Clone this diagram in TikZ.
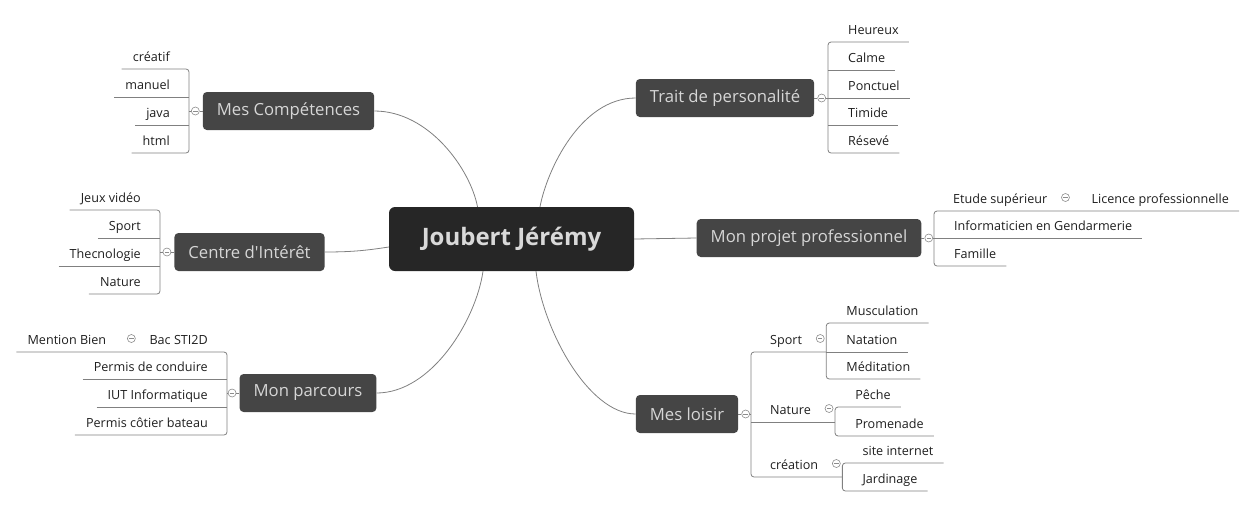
\documentclass[tikz,border=0pt]{standalone}
\usepackage{fontspec}
\setmainfont{Open Sans}[Ligatures=TeXOff]
\usetikzlibrary{positioning}

\definecolor{rootfill}{HTML}{262626}
\definecolor{roottext}{HTML}{D9D9D9}
\definecolor{topicfill}{HTML}{454545}
\definecolor{topictext}{HTML}{D6D6D6}
\definecolor{leaftext}{HTML}{1E1E1E}
\definecolor{linegray}{HTML}{808080}
\definecolor{foldgray}{HTML}{8C8C8C}

\begin{document}
\begin{tikzpicture}[x=1pt,y=-1pt]
    		\newcommand{\cornerrad}{3pt} % radius of the bracket corners
    		\newcommand{\foldgap}{3pt} % space between a topic and its fold
    		
    		% set the styles of the map
    		\tikzset{
    			rootbox/.style={
    				rounded corners=6pt,
    				fill=rootfill,
    				text=roottext,
    				font=\fontsize{24}{28}\selectfont\bfseries,
    				minimum width=245pt,
    				minimum height=64pt
    				},
    			topic/.style={
    				rounded corners=4pt,
    				fill=topicfill,
    				text=topictext,
    				font=\fontsize{16.7}{20}\selectfont,
    				minimum height=38pt,
    				inner xsep=14pt
    				},
    			leaf/.style 2 args={
    				font=\fontsize{12.6}{15}\selectfont,
    				text=leaftext,
    				inner xsep=0pt,
    				inner ysep=4pt,
    				text height=10pt,
    				text depth=3pt,
    				execute at begin node={\hspace*{#1pt}},
    				execute at end node={\hspace*{#2pt}}
    				},
    			rleaf/.style={leaf={20}{10}, anchor=south west},
    			lleaf/.style={leaf={11}{19}, anchor=south east},
    			rsub/.style={leaf={19}{24}, anchor=south west},
    			lsub/.style={leaf={24}{19}, anchor=south east},
    			fold/.style={
    				circle,
    				draw=foldgray,
    				fill=white,
    				line width=0.6pt,
    				minimum size=8pt,
    				inner sep=0pt,
    				path picture={\draw[foldgray, line width=0.6pt]
    					([xshift=-2.2pt]path picture bounding box.center) --
    					([xshift=2.2pt]path picture bounding box.center);}
    				},
    			branch/.style={draw=linegray, line width=0.8pt},
    			link/.style={draw=linegray, line width=0.8pt}
    		}
    		
    		\useasboundingbox (0,0) rectangle (1250,507);
    		
    		% topics
    		\node[rootbox] (root) at (511.5,239) {Joubert Jérémy};
    		\node[topic] (comp) at (288.5,111) {Mes Compétences};
    		\node[topic] (centre) at (249.5,252) {Centre d'Intérêt};
    		\node[topic] (parcours) at (308,393) {Mon parcours};
    		\node[topic] (trait) at (725,98) {Trait de personalité};
    		\node[topic] (projet) at (809,238) {Mon projet professionnel};
    		\node[topic] (loisir) at (687,414) {Mes loisir};
    		
    		% links to the centre
    		\draw[link] (comp.east) .. controls +(55,0) and +(-7,-37) .. ([xshift=-34pt]root.north);
    		\draw[link] (trait.west) .. controls +(-55,0) and +(7,-37) .. ([xshift=28.5pt]root.north);
    		\draw[link] (centre.east) .. controls +(30,0) and +(-20,3) .. ([yshift=-8pt]root.west);
    		\draw[link] (root.east) -- (projet.west);
    		\draw[link] (parcours.east) .. controls +(55,0) and +(-7,49) .. ([xshift=-28.5pt]root.south);
    		\draw[link] (loisir.west) .. controls +(-47,0) and +(7,59) .. ([xshift=24.5pt]root.south);
    		
    		% folds
    		\node[fold, left=\foldgap of comp] (comp-f) {};
    		\node[fold, left=\foldgap of centre] (centre-f) {};
    		\node[fold, left=\foldgap of parcours] (parcours-f) {};
    		\node[fold, right=\foldgap of trait] (trait-f) {};
    		\node[fold, right=\foldgap of projet] (projet-f) {};
    		\node[fold, right=\foldgap of loisir] (loisir-f) {};
    		
    		% Mes Competences
    		\node[lleaf] (creatif) at (189,69) {créatif};
    		\node[lleaf] (manuel) at (189,97) {manuel};
    		\node[lleaf] (java) at (189,125) {java};
    		\node[lleaf] (html) at (189,153) {html};
    		\draw[branch] (comp.west) -- (comp-f.east);
    		\draw[branch] (comp-f.west) -- (comp-f.west -| creatif.south east);
    		\draw[branch, rounded corners=\cornerrad] (creatif.south west) -- (creatif.south east) -- (html.south east) -- (html.south west);
    		\draw[branch] (manuel.south west) -- (manuel.south east);
    		\draw[branch] (java.south west) -- (java.south east);
    		
    		% Centre d'Interet
    		\node[lleaf] (jeux) at (160,210) {Jeux vidéo};
    		\node[lleaf] (sportc) at (160,238) {Sport};
    		\node[lleaf] (techno) at (160,266) {Thecnologie};
    		\node[lleaf] (naturec) at (160,294) {Nature};
    		\draw[branch] (centre.west) -- (centre-f.east);
    		\draw[branch] (centre-f.west) -- (centre-f.west -| jeux.south east);
    		\draw[branch, rounded corners=\cornerrad] (jeux.south west) -- (jeux.south east) -- (naturec.south east) -- (naturec.south west);
    		\draw[branch] (sportc.south west) -- (sportc.south east);
    		\draw[branch] (techno.south west) -- (techno.south east);
    		
    		% Mon parcours
    		\node[lsub] (bac) at (227,352) {Bac STI2D};
    		\node[lleaf] (mention) at (bac.south west) {Mention Bien};
    		\node[fold] (bac-f) at ([xshift=6pt,yshift=13.5pt]bac.south west) {};
    		\node[lleaf] (permis) at (227,379) {Permis de conduire};
    		\node[lleaf] (iut) at (227,407) {IUT Informatique};
    		\node[lleaf] (cotier) at (227,435) {Permis côtier bateau};
    		\draw[branch] (parcours.west) -- (parcours-f.east);
    		\draw[branch] (parcours-f.west) -- (parcours-f.west -| bac.south east);
    		\draw[branch, rounded corners=\cornerrad] (mention.south west) -- (bac.south east) -- (cotier.south east) -- (cotier.south west);
    		\draw[branch] (permis.south west) -- (permis.south east);
    		\draw[branch] (iut.south west) -- (iut.south east);
    		
    		% Trait de personalite
    		\node[rleaf] (heureux) at (828,42) {Heureux};
    		\node[rleaf] (calme) at (828,70) {Calme};
    		\node[rleaf] (ponctuel) at (828,98) {Ponctuel};
    		\node[rleaf] (timide) at (828,125) {Timide};
    		\node[rleaf] (resev) at (828,153) {Résevé};
    		\draw[branch] (trait.east) -- (trait-f.west);
    		\draw[branch] (trait-f.east) -- (ponctuel.south west);
    		\draw[branch, rounded corners=\cornerrad] (heureux.south east) -- (heureux.south west) -- (resev.south west) -- (resev.south east);
    		\draw[branch] (calme.south west) -- (calme.south east);
    		\draw[branch] (ponctuel.south west) -- (ponctuel.south east);
    		\draw[branch] (timide.south west) -- (timide.south east);
    		
    		% Mon projet professionnel
    		\node[rsub] (etude) at (934,211) {Etude supérieur};
    		\node[rleaf] (licence) at (etude.south east) {Licence professionnelle};
    		\node[fold] (etude-f) at ([xshift=-6pt,yshift=13.5pt]etude.south east) {};
    		\node[rleaf] (info) at (934,238) {Informaticien en Gendarmerie};
    		\node[rleaf] (famille) at (934,266) {Famille};
    		\draw[branch] (projet.east) -- (projet-f.west);
    		\draw[branch] (projet-f.east) -- (info.south west);
    		\draw[branch, rounded corners=\cornerrad] (licence.south east) -- (etude.south west) -- (famille.south west) -- (famille.south east);
    		\draw[branch] (info.south west) -- (info.south east);
    		
    		% Mes loisir
    		\node[rsub] (sport) at (751,352) {Sport};
    		\node[rsub] (nature) at (751,422) {Nature};
    		\node[rsub] (creation) at (751,477) {création};
    		\node[fold] (sport-f) at ([xshift=-6pt,yshift=13.5pt]sport.south east) {};
    		\node[fold] (nature-f) at ([xshift=-6pt,yshift=13.5pt]nature.south east) {};
    		\node[fold] (creation-f) at ([xshift=-6pt,yshift=13.5pt]creation.south east) {};
    		\node[rleaf] (muscu) at ([yshift=29pt]sport.south east) {Musculation};
    		\node[rleaf] (natation) at (sport.south east) {Natation};
    		\node[rleaf] (medit) at ([yshift=-27pt]sport.south east) {Méditation};
    		\node[rleaf] (peche) at ([yshift=15pt]nature.south east) {Pêche};
    		\node[rleaf] (promenade) at ([yshift=-14pt]nature.south east) {Promenade};
    		\node[rleaf] (site) at ([yshift=14pt]creation.south east) {site internet};
    		\node[rleaf] (jardin) at ([yshift=-14pt]creation.south east) {Jardinage};
    		\draw[branch] (loisir.east) -- (loisir-f.west);
    		\draw[branch] (loisir-f.east) -- (loisir-f.east -| sport.south west);
    		\draw[branch, rounded corners=\cornerrad] (sport.south east) -- (sport.south west) -- (creation.south west) -- (creation.south east);
    		\draw[branch] (nature.south west) -- (nature.south east);
    		\draw[branch] (natation.south west) -- (natation.south east);
    		\draw[branch, rounded corners=\cornerrad] (muscu.south east) -- (muscu.south west) -- (medit.south west) -- (medit.south east);
    		\draw[branch, rounded corners=\cornerrad] (peche.south east) -- (peche.south west) -- (promenade.south west) -- (promenade.south east);
    		\draw[branch, rounded corners=\cornerrad] (site.south east) -- (site.south west) -- (jardin.south west) -- (jardin.south east);
    		
\end{tikzpicture}
\end{document}
